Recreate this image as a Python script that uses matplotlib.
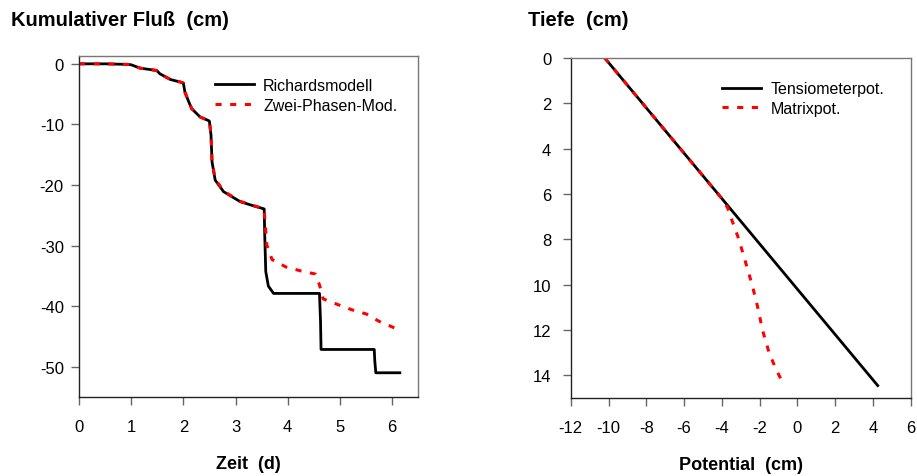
#!/usr/bin/env python3
import matplotlib
matplotlib.use('Agg')
import matplotlib.pyplot as plt

plt.rcParams['font.family'] = ['Liberation Sans', 'DejaVu Sans']
plt.rcParams['axes.unicode_minus'] = False

# left panel: cumulative flux over time
richards_t = [0.0, 0.5, 0.95, 1.0, 1.17, 1.49, 1.55, 1.75, 1.98, 2.0, 2.03, 2.1, 2.16, 2.32,
              2.49, 2.5, 2.53, 2.55, 2.61, 2.77, 3.09, 3.35, 3.53, 3.55, 3.56, 3.58, 3.63,
              3.73, 4.61, 4.63, 4.64, 5.66, 5.67, 5.69, 6.15]
richards_flux = [0.0, 0.0, -0.1, -0.16, -0.71, -1.1, -1.64, -2.58, -3.1, -3.18, -4.66, -6.2,
                 -7.4, -8.77, -9.4, -9.49, -11.8, -16.2, -19.2, -21.1, -22.75, -23.46, -23.9,
                 -23.96, -28.2, -34.3, -36.7, -37.9, -37.9, -42.5, -47.15, -47.15, -49.0,
                 -51.0, -51.0]

twophase_t = [0.0, 0.5, 0.95, 1.0, 1.17, 1.49, 1.55, 1.75, 1.98, 2.0, 2.03, 2.1, 2.16, 2.32,
              2.49, 2.5, 2.53, 2.55, 2.61, 2.77, 3.09, 3.35, 3.53, 3.55, 3.6, 3.7, 3.97, 4.26,
              4.53, 4.61, 4.68, 4.95, 5.23, 5.51, 5.75, 6.05]
twophase_flux = [0.0, 0.0, -0.1, -0.16, -0.71, -1.1, -1.64, -2.58, -3.1, -3.18, -4.66, -6.2,
                 -7.4, -8.77, -9.4, -9.49, -11.8, -16.2, -19.0, -21.0, -22.7, -23.4, -23.9,
                 -24.2, -29.9, -32.3, -33.55, -34.2, -34.7, -36.5, -38.8, -39.7, -40.6,
                 -41.3, -42.5, -43.6]

# right panel: potential profiles over depth
tensio_pot = [-10.2, 4.25]
tensio_depth = [0.0, 14.45]

matrix_pot = [-10.2, -7.0, -4.0, -3.7, -3.45, -3.1, -2.75, -2.4, -2.1, -1.85, -1.5, -1.2, -0.8]
matrix_depth = [0.0, 3.2, 6.2, 6.6, 7.2, 8.0, 9.0, 10.0, 11.0, 12.0, 13.0, 13.6, 14.3]

left_xticks = [0, 1, 2, 3, 4, 5, 6]
left_yticks = [0, -10, -20, -30, -40, -50]
right_xticks = list(range(-12, 7, 2))
right_yticks = list(range(0, 15, 2))

red_dash = (0, (2.0, 2.8))


def style_axes(ax):
    for side in ['left', 'bottom']:
        ax.spines[side].set_color('#222222')
    for side in ['top', 'right']:
        ax.spines[side].set_color('#777777')
    for sp in ax.spines.values():
        sp.set_linewidth(1.0)
    ax.tick_params(direction='out', length=6, width=1, color='#666666',
                   labelsize=12, pad=5)
    ax.tick_params(axis='x', pad=10)


def add_legend(ax, anchor):
    ax.legend(loc='upper left', bbox_to_anchor=anchor, frameon=False,
              fontsize=11.5, handlelength=2.45, handletextpad=0.6, labelspacing=0.3,
              borderpad=0)


fig = plt.figure(figsize=(9.17, 4.77), dpi=100)

ax1 = fig.add_axes([0.0862, 0.1656, 0.3697, 0.715])
ax1.plot(richards_t, richards_flux, color='black', lw=2.0, label='Richardsmodell')
ax1.plot(twophase_t, twophase_flux, color='red', lw=2.2, linestyle=red_dash,
         label='Zwei-Phasen-Mod.')
ax1.set_xlim(0, 6.5)
ax1.set_ylim(-55, 1.3)
ax1.set_xticks(left_xticks)
ax1.set_yticks(left_yticks)
style_axes(ax1)
ax1.set_xlabel('Zeit  (d)', fontsize=13, fontweight='bold', labelpad=15)
add_legend(ax1, (0.376, 0.959))
fig.text(0.012, 0.958, 'Kumulativer Fluß  (cm)', fontsize=14.5, fontweight='bold',
         ha='left', va='center')

ax2 = fig.add_axes([0.6224, 0.1635, 0.3708, 0.7128])
ax2.plot(tensio_pot, tensio_depth, color='black', lw=2.0, label='Tensiometerpot.')
ax2.plot(matrix_pot, matrix_depth, color='red', lw=2.2, linestyle=red_dash,
         label='Matrixpot.')
ax2.set_xlim(-12, 6)
ax2.set_ylim(15, 0)
ax2.set_xticks(right_xticks)
ax2.set_yticks(right_yticks)
style_axes(ax2)
ax2.tick_params(axis='y', pad=8)
ax2.set_xlabel('Potential  (cm)', fontsize=13, fontweight='bold', labelpad=15)
add_legend(ax2, (0.421, 0.955))
fig.text(0.576, 0.958, 'Tiefe  (cm)', fontsize=14.5, fontweight='bold',
         ha='left', va='center')

plt.savefig('out.png', dpi=100)
